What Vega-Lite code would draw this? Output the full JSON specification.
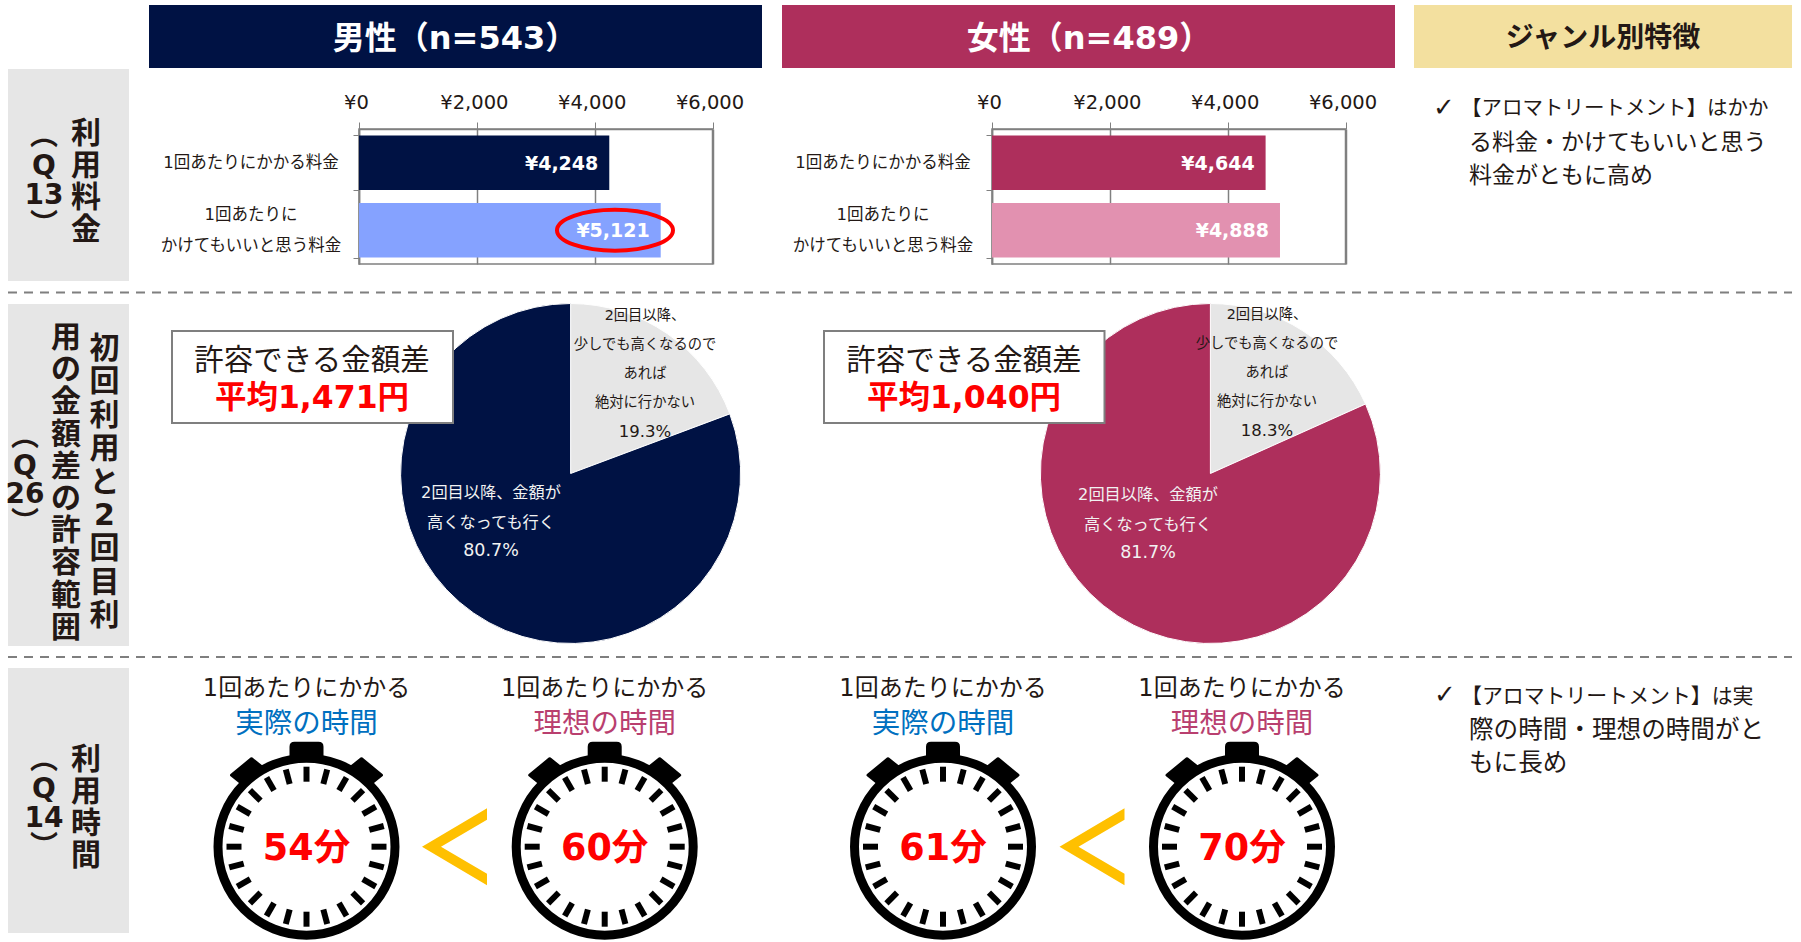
{"$schema":"https://vega.github.io/schema/vega-lite/v6.json","width":1801,"height":942,"padding":0,"autosize":{"type":"none"},"background":"white",
"config":{"view":{"stroke":null},"text":{"font":"DejaVu Sans, Noto Sans CJK JP","align":"center","baseline":"middle","color":"#231815"},"axis":{"labelFont":"DejaVu Sans"}},
"data":{"values":[{"note":"frame"}]},
"resolve":{"scale":{"x":"independent","y":"independent","theta":"independent","color":"independent"},"axis":{"x":"independent","y":"independent"}},
"layer":[
{"mark":{"type":"rect","fill":"#001244"},"encoding":{"x":{"value":149},"x2":{"value":762},"y":{"value":5},"y2":{"value":68}}},
{"mark":{"type":"rect","fill":"#AE2F5C"},"encoding":{"x":{"value":782},"x2":{"value":1395},"y":{"value":5},"y2":{"value":68}}},
{"mark":{"type":"rect","fill":"#F3E09F"},"encoding":{"x":{"value":1414},"x2":{"value":1792},"y":{"value":5},"y2":{"value":68}}},
{"mark":{"type":"rect","fill":"#E6E6E6"},"encoding":{"x":{"value":8},"x2":{"value":129},"y":{"value":69},"y2":{"value":281}}},
{"mark":{"type":"rect","fill":"#E6E6E6"},"encoding":{"x":{"value":8},"x2":{"value":129},"y":{"value":304},"y2":{"value":646}}},
{"mark":{"type":"rect","fill":"#E6E6E6"},"encoding":{"x":{"value":8},"x2":{"value":129},"y":{"value":668},"y2":{"value":933}}},
{"mark":{"type":"rule","stroke":"#7F7F7F","strokeWidth":2,"strokeDash":[9,7]},"encoding":{"x":{"value":8},"x2":{"value":1792},"y":{"value":292.5}}},
{"mark":{"type":"rule","stroke":"#7F7F7F","strokeWidth":2,"strokeDash":[9,7]},"encoding":{"x":{"value":8},"x2":{"value":1792},"y":{"value":657}}},
{"data":{"values":[{"t":"男性（n=543）"}]},"mark":{"type":"text","x":455,"y":38.5,"fontSize":32,"fontWeight":"bold","color":"white"},"encoding":{"text":{"field":"t"}}},
{"data":{"values":[{"t":"女性（n=489）"}]},"mark":{"type":"text","x":1089,"y":38.5,"fontSize":32,"fontWeight":"bold","color":"white"},"encoding":{"text":{"field":"t"}}},
{"data":{"values":[{"t":"ジャンル別特徴"}]},"mark":{"type":"text","x":1603,"y":38.5,"fontSize":28,"fontWeight":"bold"},"encoding":{"text":{"field":"t"}}},
{"data":{"values":[{"t":"利|用|料|金"}]},"mark":{"type":"text","x":86,"y":134,"fontSize":30,"fontWeight":"bold","lineBreak":"|","lineHeight":32},"encoding":{"text":{"field":"t"}}},
{"data":{"values":[{"t":"︵|Q|13|︶"}]},"mark":{"type":"text","x":44,"y":137,"fontSize":28,"fontWeight":"bold","lineBreak":"|","lineHeight":29.5},"encoding":{"text":{"field":"t"}}},
{"data":{"values":[{"t":"初|回|利|用|と|2|回|目|利"}]},"mark":{"type":"text","x":104.5,"y":349,"fontSize":30,"fontWeight":"bold","lineBreak":"|","lineHeight":33.4},"encoding":{"text":{"field":"t"}}},
{"data":{"values":[{"t":"用|の|金|額|差|の|許|容|範|囲"}]},"mark":{"type":"text","x":66,"y":338,"fontSize":30,"fontWeight":"bold","lineBreak":"|","lineHeight":32.2},"encoding":{"text":{"field":"t"}}},
{"data":{"values":[{"t":"︵|Q|26|︶"}]},"mark":{"type":"text","x":25,"y":438,"fontSize":28,"fontWeight":"bold","lineBreak":"|","lineHeight":28.5},"encoding":{"text":{"field":"t"}}},
{"data":{"values":[{"t":"利|用|時|間"}]},"mark":{"type":"text","x":86,"y":760,"fontSize":30,"fontWeight":"bold","lineBreak":"|","lineHeight":32},"encoding":{"text":{"field":"t"}}},
{"data":{"values":[{"t":"︵|Q|14|︶"}]},"mark":{"type":"text","x":44,"y":761,"fontSize":28,"fontWeight":"bold","lineBreak":"|","lineHeight":29},"encoding":{"text":{"field":"t"}}},
{"data":{"values":[{"t":"✓"}]},"mark":{"type":"text","x":1444,"y":108,"fontSize":26},"encoding":{"text":{"field":"t"}}},
{"data":{"values":[{"t":"✓"}]},"mark":{"type":"text","x":1445,"y":695,"fontSize":26},"encoding":{"text":{"field":"t"}}},
{"data":{"values":[{"t":"【アロマトリートメント】はかか"}]},"mark":{"type":"text","x":1461,"y":109,"align":"left","fontSize":20.5},"encoding":{"text":{"field":"t"}}},
{"data":{"values":[{"t":"る料金・かけてもいいと思う|料金がともに高め"}]},"mark":{"type":"text","x":1469,"y":142.5,"align":"left","fontSize":23,"lineBreak":"|","lineHeight":33.5},"encoding":{"text":{"field":"t"}}},
{"data":{"values":[{"t":"【アロマトリートメント】は実"}]},"mark":{"type":"text","x":1461,"y":697,"align":"left","fontSize":20.9},"encoding":{"text":{"field":"t"}}},
{"data":{"values":[{"t":"際の時間・理想の時間がと|もに長め"}]},"mark":{"type":"text","x":1469,"y":730.5,"align":"left","fontSize":24.6,"lineBreak":"|","lineHeight":33.5},"encoding":{"text":{"field":"t"}}},

{"data":{"values":[{"label":"1回あたりにかかる料金","item":"a","yen":4248,"t":"¥4,248"},{"label":"1回あたりに\nかけてもいいと思う料金","item":"b","yen":5121,"t":"¥5,121","hi":true}]},
"encoding":{"y":{"field":"label","type":"nominal","sort":null,"scale":{"range":[129,264],"paddingInner":0.19,"paddingOuter":0.095},"axis":{"orient":"left","offset":-359,"labels":false,"title":null,"tickBand":"extent","tickSize":6,"tickColor":"#808080","domainColor":"#808080","domainWidth":1.5,"grid":false}}},
"layer":[
{"data":{"values":[{"note":"frame"}]},"mark":{"type":"rect","fill":"transparent","stroke":"#808080","strokeWidth":1.5},"encoding":{"x":{"datum":0,"type":"quantitative","scale":{"domain":[0,6000],"range":[359,712.5],"nice":false}},"x2":{"datum":6000},"y":{"value":129},"y2":{"value":264}}},
{"mark":{"type":"bar"},"encoding":{"x":{"field":"yen","type":"quantitative","scale":{"domain":[0,6000],"range":[359,712.5],"nice":false},"axis":{"orient":"top","offset":-129,"values":[0,2000,4000,6000],"title":null,"labelFontSize":19.5,"labelColor":"#231815","labelPadding":10,"labelFlush":false,"labelOffset":-3,"labelOverlap":false,"labelExpr":"'¥'+format(datum.value,',')","tickSize":7,"tickColor":"#808080","domainColor":"#808080","domainWidth":1.5,"grid":true,"gridColor":"#808080","gridWidth":1.5}},"color":{"field":"item","type":"nominal","scale":{"domain":["a","b"],"range":["#001244","#85A2FF"]},"legend":null}}},
{"mark":{"type":"text","align":"right","dx":-11,"dy":1,"fontSize":19,"fontWeight":"bold","color":"white"},"encoding":{"x":{"field":"yen","type":"quantitative"},"text":{"field":"t"}}},
{"transform":[{"filter":{"field":"item","equal":"a"}}],"mark":{"type":"text","x":251,"fontSize":16.5,"lineBreak":"\n","lineHeight":31},"encoding":{"text":{"field":"label"}}},
{"transform":[{"filter":{"field":"item","equal":"b"}}],"mark":{"type":"text","x":251,"dy":-15,"fontSize":16.5,"lineBreak":"\n","lineHeight":31},"encoding":{"text":{"field":"label"}}},
{"transform":[{"filter":{"field":"hi","equal":true}}],"mark":{"type":"point","shape":"M-1 0A1 0.353 0 1 1 1 0A1 0.353 0 1 1 -1 0Z","size":13456,"stroke":"#FF0000","strokeWidth":4,"fill":"transparent","opacity":1},"encoding":{"x":{"datum":4345,"type":"quantitative"}}}
]},

{"data":{"values":[{"label":"1回あたりにかかる料金","item":"a","yen":4644,"t":"¥4,644"},{"label":"1回あたりに\nかけてもいいと思う料金","item":"b","yen":4888,"t":"¥4,888"}]},
"encoding":{"y":{"field":"label","type":"nominal","sort":null,"scale":{"range":[129,264],"paddingInner":0.19,"paddingOuter":0.095},"axis":{"orient":"left","offset":-992,"labels":false,"title":null,"tickBand":"extent","tickSize":6,"tickColor":"#808080","domainColor":"#808080","domainWidth":1.5,"grid":false}}},
"layer":[
{"data":{"values":[{"note":"frame"}]},"mark":{"type":"rect","fill":"transparent","stroke":"#808080","strokeWidth":1.5},"encoding":{"x":{"datum":0,"type":"quantitative","scale":{"domain":[0,6000],"range":[992,1345.5],"nice":false}},"x2":{"datum":6000},"y":{"value":129},"y2":{"value":264}}},
{"mark":{"type":"bar"},"encoding":{"x":{"field":"yen","type":"quantitative","scale":{"domain":[0,6000],"range":[992,1345.5],"nice":false},"axis":{"orient":"top","offset":-129,"values":[0,2000,4000,6000],"title":null,"labelFontSize":19.5,"labelColor":"#231815","labelPadding":10,"labelFlush":false,"labelOffset":-3,"labelOverlap":false,"labelExpr":"'¥'+format(datum.value,',')","tickSize":7,"tickColor":"#808080","domainColor":"#808080","domainWidth":1.5,"grid":true,"gridColor":"#808080","gridWidth":1.5}},"color":{"field":"item","type":"nominal","scale":{"domain":["a","b"],"range":["#AE2F5C","#E291B0"]},"legend":null}}},
{"mark":{"type":"text","align":"right","dx":-11,"dy":1,"fontSize":19,"fontWeight":"bold","color":"white"},"encoding":{"x":{"field":"yen","type":"quantitative"},"text":{"field":"t"}}},
{"transform":[{"filter":{"field":"item","equal":"a"}}],"mark":{"type":"text","x":883,"fontSize":16.5,"lineBreak":"\n","lineHeight":31},"encoding":{"text":{"field":"label"}}},
{"transform":[{"filter":{"field":"item","equal":"b"}}],"mark":{"type":"text","x":883,"dy":-15,"fontSize":16.5,"lineBreak":"\n","lineHeight":31},"encoding":{"text":{"field":"label"}}}
]},

{"data":{"values":[{"answer":"2回目以降、少しでも高くなるのであれば絶対に行かない","share":19.3},{"answer":"2回目以降、金額が高くなっても行く","share":80.7}]},
"mark":{"type":"arc","radius":170,"stroke":"white","strokeWidth":1},"encoding":{"theta":{"field":"share","type":"quantitative"},"order":{"field":"share","type":"quantitative"},"color":{"field":"share","type":"ordinal","scale":{"domain":[19.3,80.7],"range":["#E6E6E6","#001244"]},"legend":null},"x":{"value":570.6},"y":{"value":473.5}}},
{"data":{"values":[{"answer":"2回目以降、少しでも高くなるのであれば絶対に行かない","share":18.3},{"answer":"2回目以降、金額が高くなっても行く","share":81.7}]},
"mark":{"type":"arc","radius":170,"stroke":"white","strokeWidth":1},"encoding":{"theta":{"field":"share","type":"quantitative"},"order":{"field":"share","type":"quantitative"},"color":{"field":"share","type":"ordinal","scale":{"domain":[18.3,81.7],"range":["#E6E6E6","#AE2F5C"]},"legend":null},"x":{"value":1210.4},"y":{"value":473.5}}},
{"data":{"values":[{"t":"2回目以降、|少しでも高くなるので|あれば|絶対に行かない"}]},"mark":{"type":"text","x":645,"y":316,"fontSize":14.3,"lineBreak":"|","lineHeight":29},"encoding":{"text":{"field":"t"}}},
{"data":{"values":[{"t":"19.3%"}]},"mark":{"type":"text","x":645,"y":432,"fontSize":16.5},"encoding":{"text":{"field":"t"}}},
{"data":{"values":[{"t":"2回目以降、金額が|高くなっても行く"}]},"mark":{"type":"text","x":491,"y":493,"fontSize":16.2,"lineBreak":"|","lineHeight":29.5,"color":"#F2F2F2"},"encoding":{"text":{"field":"t"}}},
{"data":{"values":[{"t":"80.7%"}]},"mark":{"type":"text","x":491,"y":551,"fontSize":17.5,"color":"#F2F2F2"},"encoding":{"text":{"field":"t"}}},
{"data":{"values":[{"t":"2回目以降、|少しでも高くなるので|あれば|絶対に行かない"}]},"mark":{"type":"text","x":1267,"y":315,"fontSize":14.3,"lineBreak":"|","lineHeight":29},"encoding":{"text":{"field":"t"}}},
{"data":{"values":[{"t":"18.3%"}]},"mark":{"type":"text","x":1267,"y":431,"fontSize":16.5},"encoding":{"text":{"field":"t"}}},
{"data":{"values":[{"t":"2回目以降、金額が|高くなっても行く"}]},"mark":{"type":"text","x":1148,"y":495,"fontSize":16.2,"lineBreak":"|","lineHeight":29.5,"color":"#F2F2F2"},"encoding":{"text":{"field":"t"}}},
{"data":{"values":[{"t":"81.7%"}]},"mark":{"type":"text","x":1148,"y":553,"fontSize":17.5,"color":"#F2F2F2"},"encoding":{"text":{"field":"t"}}},
{"mark":{"type":"rect","fill":"white","stroke":"#7F7F7F","strokeWidth":2},"encoding":{"x":{"value":172},"x2":{"value":453},"y":{"value":331},"y2":{"value":423}}},
{"mark":{"type":"rect","fill":"white","stroke":"#7F7F7F","strokeWidth":2},"encoding":{"x":{"value":824},"x2":{"value":1104.5},"y":{"value":331},"y2":{"value":423}}},
{"data":{"values":[{"t":"許容できる金額差"}]},"mark":{"type":"text","x":312,"y":361,"fontSize":29.5},"encoding":{"text":{"field":"t"}}},
{"data":{"values":[{"t":"許容できる金額差"}]},"mark":{"type":"text","x":964,"y":361,"fontSize":29.5},"encoding":{"text":{"field":"t"}}},
{"data":{"values":[{"t":"平均1,471円"}]},"mark":{"type":"text","x":312,"y":399,"fontSize":31.5,"fontWeight":"bold","color":"#FF0000"},"encoding":{"text":{"field":"t"}}},
{"data":{"values":[{"t":"平均1,040円"}]},"mark":{"type":"text","x":964,"y":399,"fontSize":31.5,"fontWeight":"bold","color":"#FF0000"},"encoding":{"text":{"field":"t"}}},

{"data":{"values":[
{"no":1,"minutes":"54分","caption":"実際の時間","ticks":[0,15,30,45,60,75,90,105,120,135,150,165,180,195,210,225,240,255,270,285,300,315,330,345]},
{"no":2,"minutes":"60分","caption":"理想の時間","ticks":[0,15,30,45,60,75,90,105,120,135,150,165,180,195,210,225,240,255,270,285,300,315,330,345]},
{"no":3,"minutes":"61分","caption":"実際の時間","ticks":[0,15,30,45,60,75,90,105,120,135,150,165,180,195,210,225,240,255,270,285,300,315,330,345]},
{"no":4,"minutes":"70分","caption":"理想の時間","ticks":[0,15,30,45,60,75,90,105,120,135,150,165,180,195,210,225,240,255,270,285,300,315,330,345]}]},
"encoding":{"x":{"field":"no","type":"quantitative","scale":{"domain":[1,2,3,4],"range":[306.5,604.7,943,1242],"nice":false,"zero":false},"axis":null}},
"layer":[
{"mark":{"type":"point","filled":true,"fill":"black","stroke":"black","strokeWidth":3,"strokeJoin":"round","opacity":1,"size":10000,"shape":"M-0.31 -1.7L-0.31 -2C-0.31 -2.05 -0.28 -2.07 -0.24 -2.07L0.24 -2.07C0.28 -2.07 0.31 -2.05 0.31 -2L0.31 -1.7ZM-1.5 -1.43L-1.1 -1.76L-0.9 -1.6L-1.3 -1.27ZM1.5 -1.43L1.1 -1.76L0.9 -1.6L1.3 -1.27Z"},"encoding":{"y":{"value":846.7}}},
{"mark":{"type":"point","filled":true,"fill":"white","stroke":"black","strokeWidth":9,"opacity":1,"shape":"circle","size":31329},"encoding":{"y":{"value":846.7}}},
{"transform":[{"flatten":["ticks"]}],"mark":{"type":"point","filled":true,"fill":"black","opacity":1,"size":10000,"shape":"M-0.06 -1.6L0.06 -1.6L0.06 -1.3L-0.06 -1.3Z"},"encoding":{"y":{"value":846.7},"angle":{"field":"ticks","type":"quantitative","scale":null}}},
{"mark":{"type":"text","y":848.5,"fontSize":36.5,"fontWeight":"bold","color":"#FF0000"},"encoding":{"text":{"field":"minutes"}}},
{"mark":{"type":"text","y":689,"fontSize":24},"encoding":{"text":{"datum":"1回あたりにかかる"}}},
{"mark":{"type":"text","y":724,"fontSize":28.5},"encoding":{"text":{"field":"caption"},"color":{"field":"caption","type":"nominal","scale":{"domain":["実際の時間","理想の時間"],"range":["#0070C0","#B93F6F"]},"legend":null}}}
]},
{"mark":{"type":"point","filled":true,"fill":"#FFC000","opacity":1,"size":10000,"shape":"M-0.65 0L0.65 -0.77L0.65 -0.54L-0.27 0L0.65 0.54L0.65 0.77Z"},"encoding":{"x":{"value":454.5},"y":{"value":846.7}}},
{"mark":{"type":"point","filled":true,"fill":"#FFC000","opacity":1,"size":10000,"shape":"M-0.65 0L0.65 -0.77L0.65 -0.54L-0.27 0L0.65 0.54L0.65 0.77Z"},"encoding":{"x":{"value":1092},"y":{"value":846.7}}}
]}
